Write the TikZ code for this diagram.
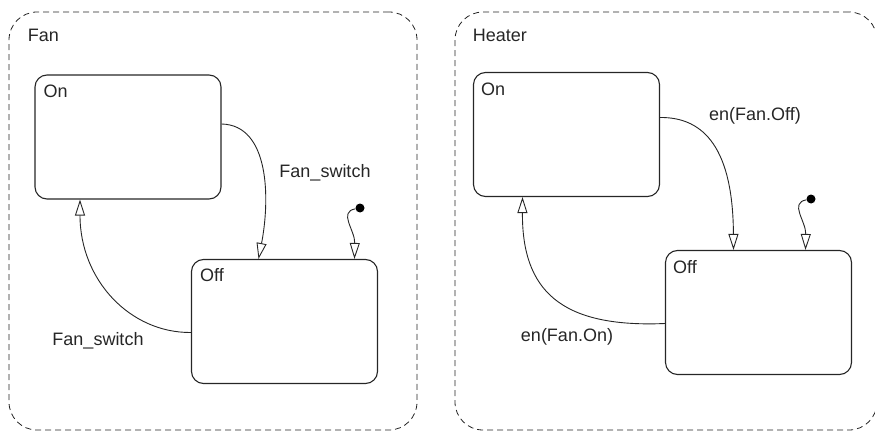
\documentclass[tikz,border=0pt]{standalone}
\usepackage{fontspec}
\setmainfont{Liberation Sans}
\usetikzlibrary{arrows.meta,positioning,calc}

\begin{document}
\begin{tikzpicture}[
  x=1pt,y=-1pt,
  font=\fontsize{18pt}{20pt}\selectfont,
  text=black!85,
  chart/.style={draw=black!85,dash pattern=on 6pt off 4pt,rounded corners=28pt,line width=0.8pt},
  state/.style={draw=black!85,rounded corners=12pt,minimum width=186pt,minimum height=124pt,line width=1.1pt},
  lbl/.style={inner sep=0pt,anchor=base west},
  tlbl/.style={inner sep=0pt,anchor=base},
  init/.style={circle,fill=black,inner sep=0pt,minimum size=9pt},
  arr/.style={-{Triangle[open,length=16pt,width=10pt]},line width=0.9pt,color=black!85},
]
\useasboundingbox (0,0) rectangle (875,433);

\node[chart,minimum width=408pt,minimum height=418pt] (fanChart) at (213,221) {};
\node[lbl] (fanName) at ([shift={(19pt,-30pt)}]fanChart.north west) {Fan};

\node[state] (fanOn) at (128,137) {};
\node[lbl] (fanOnName) at ([shift={(9pt,-23pt)}]fanOn.north west) {On};
\node[state] (fanOff) at (284.5,321.5) {};
\node[lbl] (fanOffName) at ([shift={(9pt,-23pt)}]fanOff.north west) {Off};
\node[init] (fanInit) at (360,208) {};

\draw[arr] ([yshift=13pt]fanOn.east) .. controls (270,125) and (270,200) .. ([xshift=-26pt]fanOff.north);
\draw[arr] ([yshift=-11pt]fanOff.west) .. controls (130,333) and (80,280) .. ([xshift=-48pt]fanOn.south);
\draw[arr] (fanInit) .. controls (338,212) and (355,230) .. ([xshift=70pt]fanOff.north);

\node[tlbl] (fanSwA) at (325,177) {Fan\_switch};
\node[tlbl] (fanSwB) at (98,345) {Fan\_switch};

\node[chart,minimum width=422pt,minimum height=418pt] (heatChart) at (666,221) {};
\node[lbl] (heatName) at ([shift={(18pt,-30pt)}]heatChart.north west) {Heater};

\node[state] (heatOn) at (566.5,134.5) {};
\node[lbl] (heatOnName) at ([shift={(8pt,-24pt)}]heatOn.north west) {On};
\node[state] (heatOff) at (758.5,312.5) {};
\node[lbl] (heatOffName) at ([shift={(8pt,-24pt)}]heatOff.north west) {Off};
\node[init] (heatInit) at (811,199) {};

\draw[arr] ([yshift=17pt]heatOn.east) .. controls (705,117) and (733,150) .. ([xshift=-25pt]heatOff.north);
\draw[arr] ([yshift=-11pt]heatOff.west) .. controls (560,328) and (522,290) .. ([xshift=-44pt]heatOn.south);
\draw[arr] (heatInit) .. controls (789,203) and (806,221) .. ([xshift=47pt]heatOff.north);

\node[tlbl] (heatOffLbl) at (755,121) {en(Fan.Off)};
\node[tlbl] (heatOnLbl) at (567,341) {en(Fan.On)};

\end{tikzpicture}
\end{document}
